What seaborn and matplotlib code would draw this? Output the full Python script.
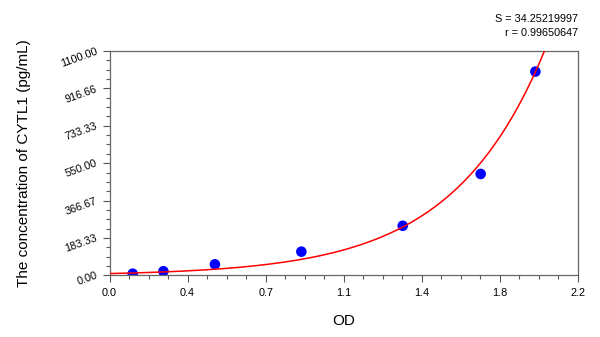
import numpy as np
import pandas as pd
import matplotlib
matplotlib.use("Agg")
import matplotlib.pyplot as plt
import seaborn as sns
from matplotlib.ticker import FixedLocator, MultipleLocator

# ---- data ----
od_values = [0.109, 0.253, 0.495, 0.901, 1.377, 1.743, 2.000]
conc_values = [8, 20, 54, 116, 243, 497, 999]

# fitted exponential model y = A*exp(B*x) + C (parameters)
fit_A = 10.04
fit_B = 2.30
fit_C = -1.4

x_tick_pos = [0.0, 2.2 / 6, 2 * 2.2 / 6, 3 * 2.2 / 6, 4 * 2.2 / 6, 5 * 2.2 / 6, 2.2]
x_tick_labels = ["0.0", "0.4", "0.7", "1.1", "1.4", "1.8", "2.2"]
y_tick_pos = [0, 1100 / 6, 2 * 1100 / 6, 3 * 1100 / 6, 4 * 1100 / 6, 5 * 1100 / 6, 1100]
y_tick_labels = ["0.00", "183.33", "366.67", "550.00", "733.33", "916.66", "1100.00"]

stat_lines = ["S = 34.25219997", "r = 0.99650647"]
x_label = "OD"
y_label = "The concentration of CYTL1 (pg/mL)"

# ---- plotting ----
sns.set_theme(style="white")
plt.rcParams["font.family"] = ["Liberation Sans", "DejaVu Sans"]

fig = plt.figure(figsize=(6.0, 3.37), dpi=100)
ax = fig.add_axes([0.1825, 0.183, 0.7808, 0.6657])

xs = np.linspace(0, 2.2, 400)
curve = pd.DataFrame({"x": xs, "y": fit_A * np.exp(fit_B * xs) + fit_C})
sns.lineplot(data=curve, x="x", y="y", ax=ax, color="#ff0000", linewidth=1.1, zorder=3)

pts = pd.DataFrame({"od": od_values, "conc": conc_values})
sns.scatterplot(data=pts, x="od", y="conc", ax=ax, color="#0000ff", s=58,
                edgecolor="none", zorder=2)

ax.set_xlim(0, 2.2)
ax.set_ylim(0, 1100)

ax.xaxis.set_major_locator(FixedLocator(x_tick_pos))
ax.set_xticklabels(x_tick_labels)
ax.xaxis.set_minor_locator(MultipleLocator(2.2 / 24))
ax.yaxis.set_major_locator(FixedLocator(y_tick_pos))
ax.set_yticklabels(y_tick_labels, rotation=20, ha="right", va="center",
                   rotation_mode="anchor")
ax.yaxis.set_minor_locator(MultipleLocator(1100 / 24))

ax.tick_params(axis="both", which="major", direction="out", length=5, width=0.8,
               color="#555555", labelsize=7.8, labelcolor="black", pad=4,
               bottom=True, left=True)
ax.tick_params(axis="both", which="minor", direction="out", length=3, width=0.8,
               color="#555555", bottom=True, left=True)

for sp in ax.spines.values():
    sp.set_visible(True)
    sp.set_color("#666666")
    sp.set_linewidth(0.9)

ax.set_xlabel(x_label, fontsize=11, labelpad=12, color="black")
ax.set_ylabel(y_label, fontsize=11, labelpad=20, color="black")
ax.grid(False)

fig.text(578 / 600, 1 - 19 / 337, stat_lines[0], ha="right", va="center",
         fontsize=7.8, color="black")
fig.text(578 / 600, 1 - 33 / 337, stat_lines[1], ha="right", va="center",
         fontsize=7.8, color="black")

fig.savefig("out.png", dpi=100, facecolor="white")
